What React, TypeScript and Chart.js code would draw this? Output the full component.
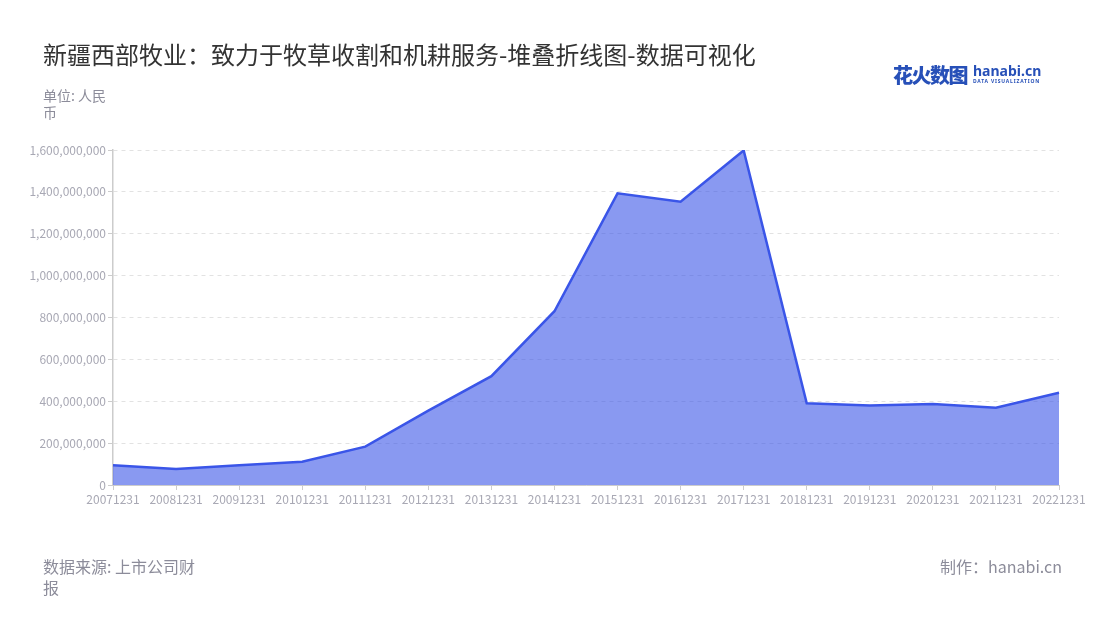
import React, { useEffect, useRef } from "react";
import { Chart, registerables } from "chart.js";

Chart.register(...registerables);

const categories = [
  "20071231", "20081231", "20091231", "20101231", "20111231", "20121231",
  "20131231", "20141231", "20151231", "20161231", "20171231", "20181231",
  "20191231", "20201231", "20211231", "20221231",
];
const revenue = [
  94000000, 76000000, 94000000, 111000000, 183000000, 355000000,
  520000000, 830000000, 1393000000, 1353000000, 1598000000, 390000000,
  380000000, 387000000, 369000000, 441000000,
];
const seriesName = "收入";
const titleText = "新疆西部牧业：致力于牧草收割和机耕服务-堆叠折线图-数据可视化";
const unitText = "单位: 人民币";
const sourceText = "数据来源: 上市公司财报";
const makerText = "制作：hanabi.cn";

const FONT = "'Noto Sans CJK SC', 'Noto Sans', sans-serif";

export default function App() {
  const ref = useRef<HTMLCanvasElement | null>(null);

  useEffect(() => {
    if (!ref.current) return;
    const chart = new Chart(ref.current, {
      type: "line",
      data: {
        labels: categories,
        datasets: [
          {
            label: seriesName,
            data: revenue,
            borderColor: "#3a55e8",
            backgroundColor: "rgba(58,85,232,0.6)",
            borderWidth: 2.5,
            fill: "origin",
            pointRadius: 0,
            tension: 0,
          },
        ],
      },
      options: {
        responsive: false,
        animation: false,
        layout: { padding: { left: 0, right: 41, top: 150, bottom: 105 } },
        plugins: {
          legend: { display: false },
          tooltip: { enabled: false },
          title: { display: false },
        },
        scales: {
          x: {
            offset: false,
            afterFit: (s: any) => {
              s.height = 30;
            },
            grid: {
              display: true,
              drawOnChartArea: false,
              drawTicks: true,
              tickLength: 5,
              tickColor: "#cccccc",
              tickWidth: 1,
            },
            border: { display: true, color: "#cccccc", width: 1 },
            ticks: {
              color: "#a8a8b4",
              font: { family: FONT, size: 12 },
              maxRotation: 0,
              autoSkip: false,
              padding: 2,
            },
          },
          y: {
            min: 0,
            max: 1600000000,
            afterFit: (s: any) => {
              s.width = 113;
            },
            grid: {
              color: "#e2e2e2",
              lineWidth: 1,
              drawTicks: true,
              tickLength: 5,
              tickColor: "#cccccc",
              tickBorderDash: [],
            },
            border: { display: true, color: "#cccccc", width: 1.5, dash: [4, 4] },
            ticks: {
              stepSize: 200000000,
              color: "#a8a8b4",
              font: { family: FONT, size: 12 },
              padding: 2,
              callback: (v: any) => Number(v).toLocaleString("en-US"),
            },
          },
        },
      },
    });
    return () => chart.destroy();
  }, []);

  return (
    <div
      style={{
        position: "absolute",
        left: 0,
        top: 0,
        width: 1100,
        height: 620,
        background: "#fff",
        fontFamily: FONT,
        overflow: "hidden",
      }}
    >
      <canvas ref={ref} width={1100} height={620} style={{ position: "absolute", left: 0, top: 0 }} />
      <div
        style={{
          position: "absolute",
          left: 43,
          top: 38,
          fontSize: 24,
          color: "#333333",
          lineHeight: "32px",
          whiteSpace: "nowrap",
        }}
      >
        {titleText}
      </div>
      <div style={{ position: "absolute", left: 893, top: 60, whiteSpace: "nowrap" }}>
        <span style={{ fontSize: 20, fontWeight: 900, color: "#2750b8", letterSpacing: -1.5 }}>花火数图</span>
        <span style={{ display: "inline-block", marginLeft: 6, verticalAlign: "top", paddingTop: 3 }}>
          <span style={{ display: "block", fontSize: 14, fontWeight: 700, color: "#2750b8", lineHeight: "15px", fontFamily: "'Noto Sans', sans-serif" }}>
            hanabi.cn
          </span>
          <span style={{ display: "block", fontSize: 5, fontWeight: 700, color: "#2750b8", letterSpacing: 0.8, lineHeight: "6px", fontFamily: "'Noto Sans', sans-serif" }}>
            DATA VISUALIZATION
          </span>
        </span>
      </div>
      <div
        style={{
          position: "absolute",
          left: 43,
          top: 87,
          width: 72,
          fontSize: 14,
          lineHeight: "17px",
          color: "#8c8c9a",
        }}
      >
        {unitText}
      </div>
      <div
        style={{
          position: "absolute",
          left: 43,
          top: 556,
          width: 158,
          fontSize: 16,
          lineHeight: "21px",
          color: "#8c8c9a",
        }}
      >
        {sourceText}
      </div>
      <div
        style={{
          position: "absolute",
          right: 38,
          top: 556,
          fontSize: 16,
          lineHeight: "21px",
          color: "#8c8c9a",
          whiteSpace: "nowrap",
        }}
      >
        {makerText}
      </div>
    </div>
  );
}
